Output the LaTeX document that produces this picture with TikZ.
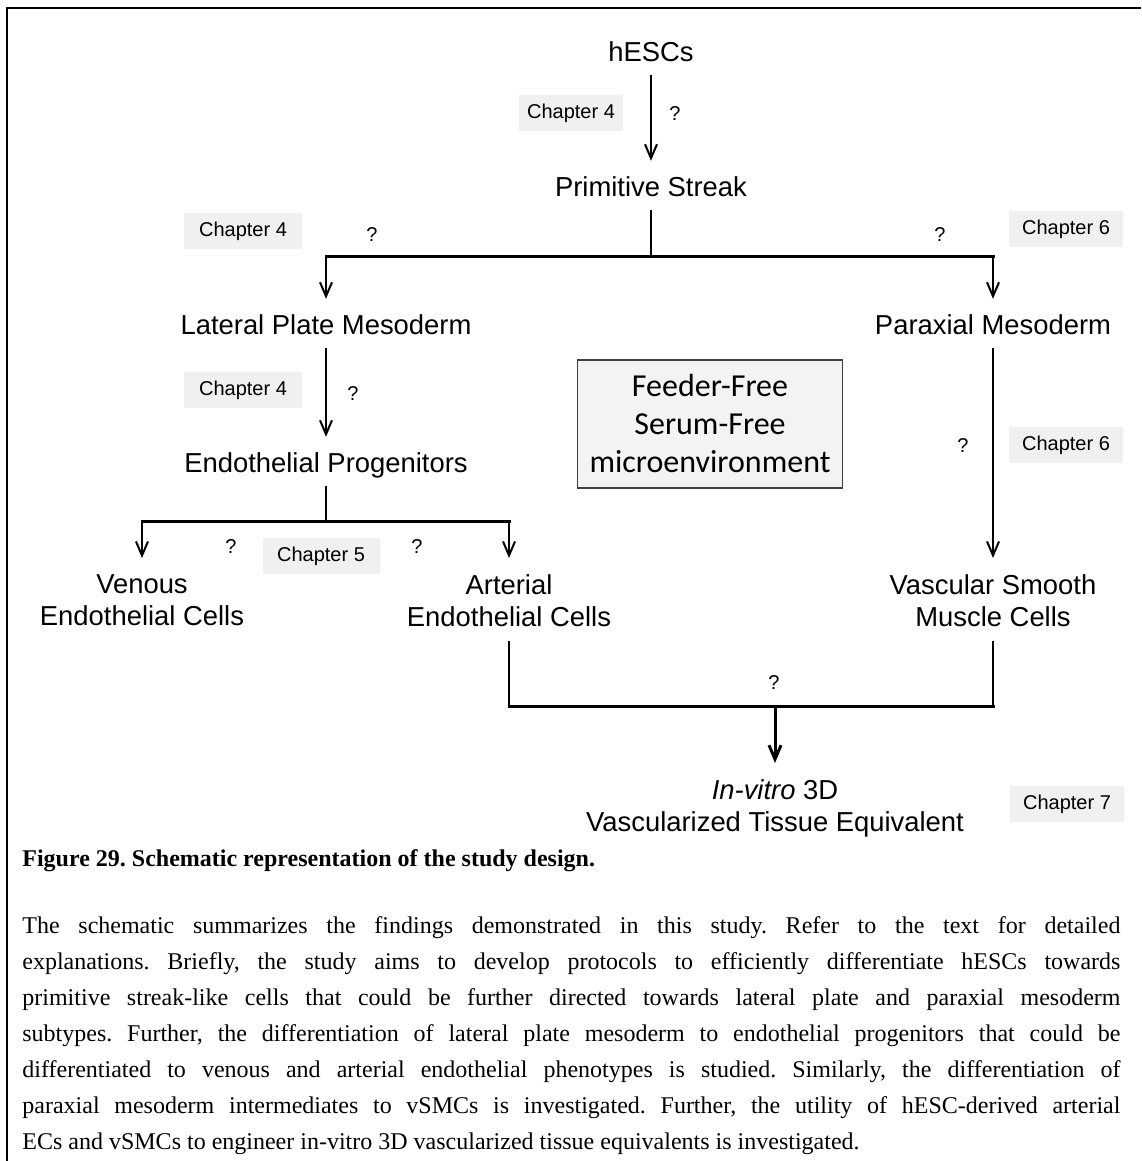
\documentclass[tikz,border=0pt]{standalone}
\usepackage{fontspec}
\setmainfont{Liberation Serif}
\newfontfamily\arial{Liberation Sans}
\newfontfamily\calibri{Carlito}
\usetikzlibrary{arrows.meta}
\definecolor{chapgray}{HTML}{F0F0F0}
\frenchspacing
\tikzset{
  lbl/.style={font=\arial\fontsize{13.7}{16}\selectfont, inner sep=0pt},
  one/.style={lbl, text height=9.8pt, text depth=0pt},
  two/.style={lbl, align=center, anchor=north},
  chap/.style={fill=chapgray, font=\arial\fontsize{10}{12}\selectfont, inner xsep=0pt, minimum height=18pt},
  flow/.style={->, line width=1pt, shorten <=6.5pt, shorten >=8pt},
  bar/.style={line width=1.5pt, line cap=rect}
}
\begin{document}
\begin{tikzpicture}[x=.5pt, y=-.5pt, >={Straight Barb[length=7pt,width=6pt]}]
\useasboundingbox (0,0) rectangle (1141,1161);
\draw[line width=1.2pt] (7,1161)--(7,8)--(1141,8);
\node[one] (hesc) at (651,52) {hESCs};
\node[one] (ps) at (651,187) {Primitive Streak};
\node[one] (lpm) at (326,325) {Lateral Plate Mesoderm};
\node[one] (pm) at (993,325) {Paraxial Mesoderm};
\node[one] (ep) at (326,463) {Endothelial Progenitors};
\node[two] (vec) at (142,574) {Venous\\Endothelial Cells};
\node[two] (aec) at (509,574) {Arterial\\Endothelial Cells};
\node[two] (vsmc) at (993,574) {Vascular Smooth\\Muscle Cells};
\node[two] (tis) at (775,779) {\textit{In-vitro} 3D\\Vascularized Tissue Equivalent};
\node[draw=black!75, fill=chapgray!80, line width=.8pt, minimum width=132.5pt, minimum height=64pt,
  align=center, font=\calibri\fontsize{16}{19}\selectfont] (ffs) at (710,424) {Feeder-Free\\Serum-Free\\microenvironment};
\foreach \n/\x/\y/\c/\w in {c4a/571/113/4/52, c4b/243/231/4/59, c6a/1066/229/6/57, c4c/243/390/4/59,
  c6b/1066/445/6/57, c5/321/556/5/58.5, c7/1067/804/7/57}
{
    \node[chap, minimum width=\w pt] (\n) at (\x,\y) {Chapter \c};
}
\foreach \x/\y [count=\i] in {675/114, 372/235, 940/235, 353/394, 963/446, 231/547, 417/547, 774/683}
{
    \node[font=\arial\fontsize{10}{12}\selectfont] (q\i) at (\x,\y) {?};
}
\coordinate (j1) at (651,256);
\coordinate (j2) at (326,521);
\coordinate (j3) at (775,706);
\draw[flow] (hesc) -- (ps);
\draw[line width=1pt, shorten <=6.5pt] (ps) -- (j1);
\draw[bar] (lpm |- j1) -- (pm |- j1);
\draw[flow, shorten <=0pt] (lpm |- j1) -- (lpm);
\draw[flow, shorten <=0pt] (pm |- j1) -- (pm);
\draw[flow] (lpm) -- (ep);
\draw[flow] (pm) -- (vsmc);
\draw[line width=1pt, shorten <=6.5pt] (ep) -- (j2);
\draw[bar] (vec |- j2) -- (aec |- j2);
\draw[flow, shorten <=0pt] (vec |- j2) -- (vec);
\draw[flow, shorten <=0pt] (aec |- j2) -- (aec);
\draw[line width=1pt, shorten <=7pt] (aec) -- (aec |- j3);
\draw[line width=1pt, shorten <=7pt] (vsmc) -- (vsmc |- j3);
\draw[bar] (aec |- j3) -- (vsmc |- j3);
\draw[flow, line width=1.5pt, shorten <=0pt] (j3) -- (tis);
\node[anchor=base west, inner sep=0pt, font=\bfseries\fontsize{12}{18}\selectfont] (cap) at (22,866)
  {Figure 29. Schematic representation of the study design.};
\node[anchor=north west, inner sep=0pt, text width=549pt, align=justify, font=\fontsize{12}{18}\selectfont] (txt) at (22,916)
  {\tolerance=10000\hyphenpenalty=10000\exhyphenpenalty=10000\noindent
  The schematic summarizes the findings demonstrated in this study. Refer to the text for detailed\linebreak
  explanations. Briefly, the study aims to develop protocols to efficiently differentiate hESCs towards\linebreak
  primitive streak-like cells that could be further directed towards lateral plate and paraxial mesoderm\linebreak
  subtypes. Further, the differentiation of lateral plate mesoderm to endothelial progenitors that could be\linebreak
  differentiated to venous and arterial endothelial phenotypes is studied. Similarly, the differentiation of\linebreak
  paraxial mesoderm intermediates to vSMCs is investigated. Further, the utility of hESC-derived arterial\linebreak
  ECs and vSMCs to engineer in-vitro 3D vascularized tissue equivalents is investigated.};
\end{tikzpicture}
\end{document}
